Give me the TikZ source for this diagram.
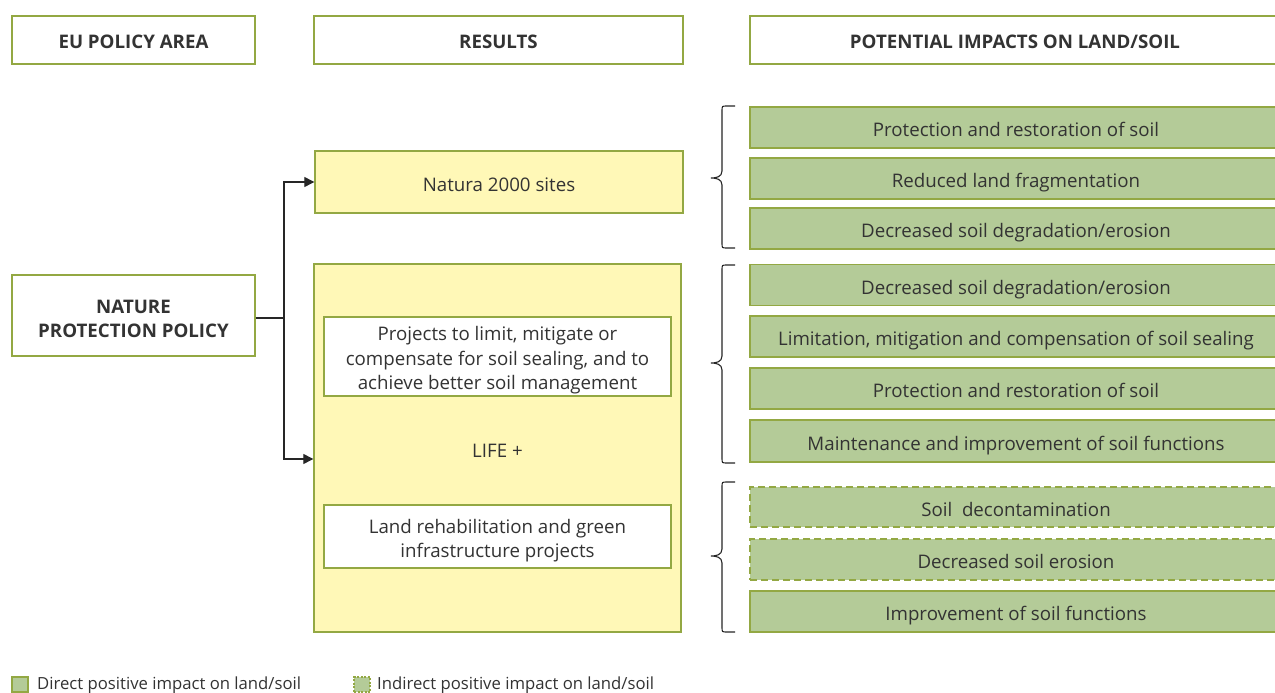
\documentclass[tikz,border=0pt]{standalone}
\usepackage{fontspec}
\setmainfont{Open Sans}
\usetikzlibrary{arrows.meta}
\definecolor{olive}{HTML}{93A843}
\definecolor{gfill}{HTML}{B4CB98}
\definecolor{yfill}{HTML}{FFF8B7}
\definecolor{txt}{HTML}{333333}
\tikzset{
  base/.style={draw=olive, line width=1.4pt, rectangle, inner sep=0pt, text=txt, align=center,
    font=\fontsize{18.7}{24.5}\selectfont},
  single/.style={text height=22pt, text depth=4pt},
  head/.style={base, single, fill=white, minimum height=48pt, font=\fontsize{18.7}{24.5}\selectfont\bfseries},
  ybox/.style={base, fill=yfill},
  wbox/.style={base, fill=white},
  gbox/.style={base, single, fill=gfill, minimum width=532pt, minimum height=41pt},
  dbox/.style={gbox, dash pattern=on 7pt off 4pt},
  arr/.style={-{Triangle[length=10pt,width=10pt]}, line width=1.3pt, draw=black!85},
  conn/.style={line width=1.3pt, draw=black!85},
  brace/.style={line width=1.1pt, draw=black!85},
  leg/.style={draw=olive, line width=1.4pt, rectangle, inner sep=0pt, minimum width=16pt, minimum height=15pt, fill=gfill},
  legt/.style={text=txt, anchor=west, inner sep=0pt, font=\fontsize{16.7}{20}\selectfont},
}
\begin{document}
\begin{tikzpicture}[x=1pt,y=-1pt]
\clip (0,0) rectangle (1275,693);
\fill[white] (0,0) rectangle (1275,693);
% headers
\node[head, minimum width=243pt] (h1) at (133.5,40) {EU POLICY AREA};
\node[head, minimum width=369pt] (h2) at (498.5,40) {RESULTS};
\node[head, minimum width=530pt] (h3) at (1015,40) {POTENTIAL IMPACTS ON LAND/SOIL};
% policy
\node[wbox, text height=44pt, text depth=0pt, minimum width=243pt, minimum height=81pt, font=\fontsize{18.7}{24.5}\selectfont\bfseries] (nat) at (133.5,315.5) {NATURE\\PROTECTION POLICY};
% results
\node[ybox, single, minimum width=368pt, minimum height=62pt] (natura) at (499,182) {Natura 2000 sites};
\node[ybox, single, minimum width=367pt, minimum height=368pt] (life) at (497.5,448) {LIFE +};
\node[wbox, text height=66.5pt, text depth=0pt, minimum width=347pt, minimum height=79pt] (p1) at (497.5,356.5) {Projects to limit, mitigate or\\compensate for soil sealing, and to\\achieve better soil management};
\node[wbox, text height=42pt, text depth=0pt, minimum width=347pt, minimum height=63pt] (p2) at (497.5,536.5) {Land rehabilitation and green\\infrastructure projects};
% connectors
\coordinate (j) at (284,318);
\draw[conn] (nat.east |- j) -- (j);
\draw[arr] (j) |- (natura.west);
\draw[arr] (j) |- ([yshift=-11pt]life.west);
% impacts
\node[gbox] (g1) at (1016,127.5) {Protection and restoration of soil};
\node[gbox] (g2) at (1016,178.5) {Reduced land fragmentation};
\node[gbox] (g3) at (1016,228.5) {Decreased soil degradation/erosion};
\node[gbox] (g4) at (1016,285) {Decreased soil degradation/erosion};
\node[gbox] (g5) at (1016,336.5) {Limitation, mitigation and compensation of soil sealing};
\node[gbox] (g6) at (1016,388.5) {Protection and restoration of soil};
\node[gbox, minimum height=42pt] (g7) at (1016,441) {Maintenance and improvement of soil functions};
\node[dbox, minimum height=40pt] (g8) at (1016,507) {Soil~ decontamination};
\node[dbox] (g9) at (1016,559.5) {Decreased soil erosion};
\node[gbox] (g10) at (1016,611.5) {Improvement of soil functions};
% braces
\foreach \t/\m/\b in {106/178/248, 265/363/463, 482/556/632}{
  \draw[brace] (735,\t) -- (727,\t) .. controls (722,\t) .. (722,\t+5) -- (722,\m-7)
    .. controls (722,\m-1) and (716,\m) .. (711,\m)
    .. controls (716,\m) and (722,\m+1) .. (722,\m+7) -- (722,\b-5)
    .. controls (722,\b) .. (727,\b) -- (735,\b);
}
% legend
\node[leg] (l1) at (20,684.5) {};
\node[legt] (l1t) at (37,685) {Direct positive impact on land/soil};
\node[leg, dash pattern=on 2pt off 1.5pt] (l2) at (362,684.5) {};
\node[legt] (l2t) at (377,685) {Indirect positive impact on land/soil};
\end{tikzpicture}
\end{document}
